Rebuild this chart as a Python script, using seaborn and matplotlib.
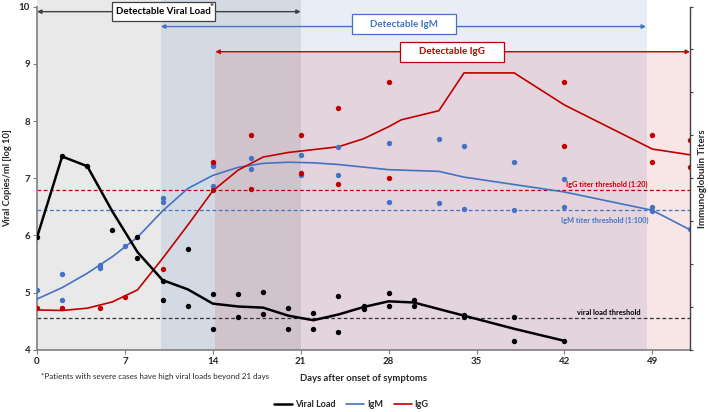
import matplotlib
matplotlib.use("Agg")
import matplotlib.pyplot as plt
from matplotlib.patches import Rectangle
from matplotlib.lines import Line2D
import seaborn as sns

# Viral load (log10 copies/ml): fitted line and individual measurements
vl_line_days = [0, 2, 4, 6, 8, 10, 12, 14, 16, 18, 20, 22, 24, 26, 28, 30, 34, 38, 42]
vl_line = [5.97, 7.38, 7.21, 6.42, 5.71, 5.22, 5.06, 4.81, 4.76, 4.74, 4.60, 4.52,
           4.62, 4.75, 4.85, 4.83, 4.60, 4.37, 4.16]
vl_pt_days = [0, 2, 4, 6, 8, 8, 10, 10, 12, 12, 14, 14, 16, 16, 18, 18, 20, 20,
              22, 22, 24, 24, 26, 26, 28, 28, 30, 30, 34, 34, 38, 38, 42]
vl_pts = [5.97, 7.38, 7.21, 6.10, 5.97, 5.61, 5.21, 4.87, 5.77, 4.77, 4.98, 4.37,
          4.98, 4.57, 5.02, 4.63, 4.74, 4.37, 4.65, 4.37, 4.94, 4.32, 4.77, 4.71,
          4.99, 4.77, 4.87, 4.77, 4.61, 4.57, 4.57, 4.16, 4.16]

# IgM (drawn on the same vertical frame)
igm_line_days = [0, 2, 4, 6, 8, 10, 12, 14, 16, 18, 20, 22, 24, 28, 32, 34, 38, 42, 49, 52]
igm_line = [4.89, 5.09, 5.34, 5.63, 5.97, 6.43, 6.82, 7.05, 7.19, 7.26, 7.28, 7.27,
            7.24, 7.15, 7.12, 7.02, 6.89, 6.76, 6.44, 6.10]
igm_pt_days = [0, 2, 2, 5, 5, 7, 10, 10, 14, 14, 14, 17, 17, 21, 21, 24, 24, 28, 28,
               32, 32, 34, 34, 38, 38, 42, 42, 49, 49, 52]
igm_pts = [5.05, 5.32, 4.87, 5.48, 5.43, 5.82, 6.65, 6.58, 7.25, 7.22, 6.86, 7.36,
           7.17, 7.41, 7.05, 7.54, 7.05, 7.62, 6.58, 7.69, 6.56, 7.57, 6.46, 7.28,
           6.44, 6.98, 6.49, 6.49, 6.43, 6.11]

# IgG
igg_line_days = [0, 2, 4, 6, 8, 10, 12, 14, 16, 18, 20, 22, 24, 26, 28, 29, 32, 34,
                 38, 42, 49, 52]
igg_line = [4.70, 4.69, 4.73, 4.84, 5.05, 5.60, 6.18, 6.78, 7.14, 7.37, 7.45, 7.50,
            7.55, 7.69, 7.90, 8.02, 8.18, 8.84, 8.84, 8.28, 7.51, 7.41]
igg_pt_days = [0, 2, 5, 7, 10, 14, 14, 17, 17, 21, 21, 24, 24, 28, 28, 42, 42, 49,
               49, 52, 52]
igg_pts = [4.74, 4.74, 4.74, 4.93, 5.41, 7.28, 6.80, 7.76, 6.82, 7.75, 7.10, 8.22,
           6.90, 8.69, 7.00, 8.69, 7.56, 7.75, 7.28, 7.66, 7.19]

# thresholds
igg_thr = 6.79
igm_thr = 6.44
vl_thr = 4.56

# detection windows (days)
vl_window = (0, 21)
igm_window = (9.86, 48.6)
igg_window = (14.2, 52)

x_ticks = [0, 7, 14, 21, 28, 35, 42, 49]
y_ticks = [4, 5, 6, 7, 8, 9, 10]

BLACK = "#000000"
BLUE = "#4472C4"
RED = "#C00000"
GRAY = "#7f7f7f"

sns.set_theme(style="white")
plt.rcParams['font.family'] = ['Lato', 'DejaVu Sans']

fig = plt.figure(figsize=(7.08, 4.12), dpi=100)
ax = fig.add_axes([0.0523, 0.1505, 0.9223, 0.8337])
ax.set_xlim(0, 52)
ax.set_ylim(4, 10)

# shaded windows
ax.add_patch(Rectangle((vl_window[0], 4), vl_window[1] - vl_window[0], 6.12,
                       fc="#e9e9e9", lw=0, zorder=0, clip_on=False))
ax.add_patch(Rectangle((igm_window[0], 4), igm_window[1] - igm_window[0], 6.12,
                       fc=BLUE, alpha=0.12, lw=0, zorder=0.1, clip_on=False))
ax.add_patch(Rectangle((igg_window[0], 4), igg_window[1] - igg_window[0], 5.21,
                       fc=RED, alpha=0.10, lw=0, zorder=0.2, clip_on=False))

# thresholds
ax.axhline(igg_thr, color=RED, ls=(0, (3, 2)), lw=0.9, zorder=1)
ax.axhline(igm_thr, color=BLUE, ls=(0, (3, 2)), lw=0.9, zorder=1)
ax.axhline(vl_thr, color="#333333", ls=(0, (3, 2)), lw=0.9, zorder=1)
ax.text(48.65, 6.90, "IgG titer threshold (1:20)", color=RED, fontsize=5.3,
        fontweight="bold", ha="right", va="center")
ax.text(48.7, 6.265, "IgM titer threshold (1:100)", color=BLUE, fontsize=5.3,
        fontweight="bold", ha="right", va="center")
ax.text(48.1, 4.65, "viral load threshold", color=BLACK, fontsize=5.3,
        fontweight="bold", ha="right", va="center")

# lines and points
sns.lineplot(x=igm_line_days, y=igm_line, color=BLUE, lw=1.2, ax=ax, zorder=3)
sns.lineplot(x=igg_line_days, y=igg_line, color=RED, lw=1.2, ax=ax, zorder=3)
sns.lineplot(x=vl_line_days, y=vl_line, color=BLACK, lw=1.8, ax=ax, zorder=4)
sns.scatterplot(x=igm_pt_days, y=igm_pts, color=BLUE, s=15, linewidth=0, ax=ax, zorder=5)
sns.scatterplot(x=igg_pt_days, y=igg_pts, color=RED, s=15, linewidth=0, ax=ax, zorder=5)
sns.scatterplot(x=vl_pt_days, y=vl_pts, color=BLACK, s=15, linewidth=0, ax=ax, zorder=5)

# window arrows
arrow_kw = dict(arrowstyle="<|-|>", lw=1.0, mutation_scale=6, shrinkA=0, shrinkB=0)
ax.annotate("", xy=(vl_window[0], 9.91), xytext=(vl_window[1], 9.91),
            arrowprops=dict(color="#404040", **arrow_kw), annotation_clip=False)
ax.annotate("", xy=(igm_window[0], 9.65), xytext=(igm_window[1] - 0.1, 9.65),
            arrowprops=dict(color=BLUE, **arrow_kw), annotation_clip=False)
ax.annotate("", xy=(igg_window[0], 9.21), xytext=(igg_window[1], 9.21),
            arrowprops=dict(color=RED, **arrow_kw), annotation_clip=False)

# window labels
boxes = [
    ("Detectable Viral Load", 5.97, 14.18, 9.75, 10.08, "#404040", BLACK),
    ("Detectable IgM", 25.06, 33.33, 9.516, 9.864, BLUE, BLUE),
    ("Detectable IgG", 28.9, 37.2, 9.038, 9.387, RED, RED),
]
for label, x0, x1, y0, y1, ec, tc in boxes:
    ax.add_patch(Rectangle((x0, y0), x1 - x0, y1 - y0, fc="white", ec=ec, lw=0.9,
                           zorder=6, clip_on=False))
    ax.text((x0 + x1) / 2, (y0 + y1) / 2, label, color=tc, fontsize=7,
            fontweight="bold", ha="center", va="center", zorder=7)
ax.text(13.9, 9.99, "*", fontsize=7, fontweight="bold", ha="center", va="center",
        zorder=8)

# axes styling
ax.set_xticks(x_ticks)
ax.set_yticks(y_ticks)
for side in ["top", "right"]:
    ax.spines[side].set_visible(False)
for side in ["left", "bottom"]:
    ax.spines[side].set_color(GRAY)
    ax.spines[side].set_linewidth(1.2)
ax.tick_params(axis="both", bottom=True, left=True, length=3, width=0.8,
               color=GRAY, labelsize=7, pad=2)
for lbl in ax.get_xticklabels() + ax.get_yticklabels():
    lbl.set_fontweight("bold")
ax.set_xlabel("Days after onset of symptoms", fontsize=6.8, fontweight="bold", labelpad=6)
ax.set_ylabel("Viral Copies/ml [log 10]", fontsize=6.7, fontweight="bold", labelpad=5)

ax2 = ax.twinx()
ax2.set_ylim(0, 8)
ax2.set_yticks(range(9))
ax2.set_yticklabels([])
for side in ["top", "left", "bottom"]:
    ax2.spines[side].set_visible(False)
ax2.spines["right"].set_color("#404040")
ax2.spines["right"].set_linewidth(1.0)
ax2.tick_params(axis="y", right=True, direction="out", length=2.5, width=0.8,
                color="#404040")
ax2.set_ylabel("Immunoglobulin Titers", fontsize=7, fontweight="bold")
ax2.yaxis.set_label_coords(1.0125, 0.5)

fig.text(41 / 708, 1 - 377 / 412,
         "*Patients with severe cases have high viral loads beyond 21 days",
         fontsize=5.8, ha="left", va="center")

handles = [Line2D([], [], color=BLACK, lw=1.8),
           Line2D([], [], color=BLUE, lw=1.2),
           Line2D([], [], color=RED, lw=1.2)]
fig.legend(handles, ["Viral Load", "IgM", "IgG"], loc="center",
           bbox_to_anchor=(0.496, 0.017), ncol=3, frameon=False,
           prop={"size": 6.5, "weight": "bold"}, handlelength=2.0,
           handletextpad=0.3, columnspacing=1.2)

fig.savefig("out.png", dpi=100)
